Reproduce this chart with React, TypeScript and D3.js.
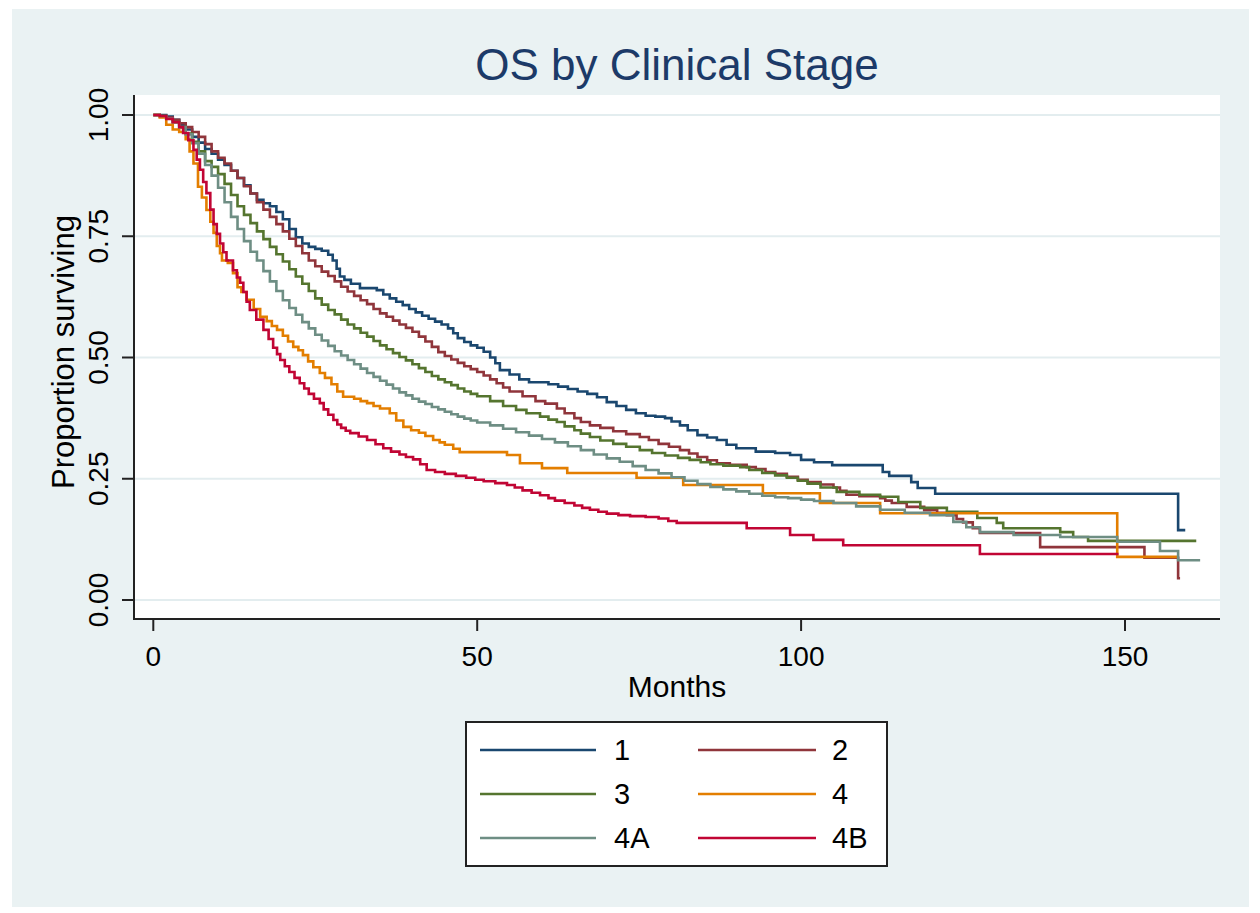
import React from 'react';
import * as d3 from 'd3';

type Pt = [number, number];

const titleText = 'OS by Clinical Stage';
const xTitle = 'Months';
const yTitle = 'Proportion surviving';
const xTicks = [0, 50, 100, 150];
const yTicks = [0, 0.25, 0.5, 0.75, 1];
const yTickLabels = ['0.00', '0.25', '0.50', '0.75', '1.00'];
const stageLabels = ['1', '2', '3', '4', '4A', '4B'];
const stageColors = ['#1A476F', '#90353B', '#55752F', '#E37E00', '#6E8E84', '#C10534'];

const stage1: Pt[] = [
  [0, 1], [2, 0.997], [3, 0.99], [4, 0.98], [5, 0.97], [6, 0.955], [7, 0.943], [8, 0.93], [9, 0.92],
  [10, 0.908], [11, 0.897], [12, 0.885], [13, 0.87], [14, 0.855], [15, 0.838], [16, 0.825], [17, 0.818],
  [18, 0.812], [19, 0.8], [20, 0.785], [21, 0.765], [22, 0.748], [23, 0.735], [24, 0.728], [25, 0.724],
  [26, 0.72], [27, 0.712], [27.7, 0.7], [28.3, 0.683], [28.8, 0.667], [29.5, 0.66], [30.5, 0.652],
  [31.9, 0.643], [34.5, 0.639], [35.5, 0.63], [36.5, 0.622], [37.5, 0.615], [38.5, 0.608], [39.5, 0.6],
  [40.5, 0.593], [41.5, 0.586], [42.5, 0.58], [43.5, 0.574], [44.5, 0.568], [45.5, 0.56], [46.3, 0.55],
  [47, 0.54], [48, 0.532], [49, 0.525], [50, 0.52], [51, 0.512], [52, 0.5], [52.8, 0.488], [53.5, 0.474],
  [55, 0.465], [56.5, 0.455], [58, 0.449], [61, 0.445], [62.5, 0.44], [64, 0.435], [65.5, 0.43],
  [67, 0.425], [68.5, 0.418], [70, 0.408], [71.5, 0.4], [73, 0.392], [74.5, 0.385], [76, 0.38],
  [77.5, 0.378], [79, 0.375], [80, 0.368], [81.3, 0.36], [82.5, 0.35], [84, 0.34], [85.5, 0.335],
  [87, 0.33], [88.5, 0.32], [90, 0.313], [93, 0.306], [96, 0.303], [98.3, 0.299], [100, 0.289],
  [102, 0.284], [104.8, 0.278], [112.6, 0.264], [113.6, 0.256], [117, 0.243], [118, 0.231],
  [120.7, 0.219], [158.2, 0.144], [159.3, 0.144],
];

const stage2: Pt[] = [
  [0, 1], [1, 0.998], [2, 0.995], [3, 0.99], [4, 0.983], [5, 0.975], [6, 0.965], [7, 0.955], [8, 0.94],
  [9, 0.925], [10, 0.912], [11, 0.9], [12, 0.885], [13, 0.87], [14, 0.853], [15, 0.838], [16, 0.82],
  [17, 0.805], [18, 0.79], [19, 0.775], [20, 0.76], [21, 0.745], [22, 0.73], [23, 0.715], [24, 0.7],
  [25, 0.688], [26, 0.677], [27, 0.668], [28, 0.657], [29, 0.646], [30, 0.636], [31, 0.627], [32, 0.618],
  [33, 0.61], [34, 0.6], [35, 0.591], [36, 0.584], [37, 0.576], [38, 0.568], [39, 0.561], [40, 0.553],
  [41, 0.543], [42, 0.533], [43, 0.522], [44, 0.511], [45, 0.503], [46, 0.496], [47, 0.489], [48, 0.482],
  [49, 0.476], [50, 0.47], [51, 0.463], [52, 0.455], [53, 0.447], [54, 0.438], [55, 0.43], [57, 0.42],
  [59, 0.41], [60.5, 0.405], [62.3, 0.395], [63.5, 0.385], [65, 0.375], [66, 0.367], [67.4, 0.36],
  [69, 0.355], [71, 0.348], [73, 0.342], [75.1, 0.336], [76.5, 0.33], [78, 0.322], [79.6, 0.316],
  [81.3, 0.309], [82.7, 0.302], [84, 0.295], [85.5, 0.288], [87, 0.282], [89, 0.279], [91.6, 0.274],
  [93, 0.27], [94.5, 0.264], [96, 0.26], [97.8, 0.254], [99.5, 0.248], [101, 0.243], [103, 0.238],
  [105, 0.232], [106, 0.225], [107, 0.217], [109, 0.214], [112.2, 0.21], [113, 0.205], [114, 0.2],
  [116.3, 0.192], [119, 0.185], [121, 0.18], [122.5, 0.175], [124, 0.167], [125, 0.16], [126.5, 0.148],
  [127.6, 0.138], [136.9, 0.109], [153, 0.087], [158.2, 0.045], [158.5, 0.045],
];

const stage3: Pt[] = [
  [0, 1], [1, 0.998], [2, 0.993], [3, 0.985], [4, 0.975], [5, 0.962], [6, 0.945], [7, 0.925], [8, 0.905],
  [9, 0.893], [10, 0.878], [11, 0.858], [12, 0.835], [13, 0.812], [14, 0.794], [15, 0.777], [16, 0.76],
  [17, 0.744], [18, 0.728], [19, 0.713], [20, 0.698], [21, 0.682], [22, 0.667], [23, 0.652], [24, 0.637],
  [25, 0.622], [26, 0.609], [27, 0.598], [28, 0.589], [29, 0.578], [30, 0.568], [31, 0.56], [32, 0.551],
  [33, 0.543], [34, 0.534], [35, 0.525], [36, 0.517], [37, 0.509], [38, 0.501], [39, 0.494], [40, 0.486],
  [41, 0.478], [42, 0.47], [43, 0.462], [44, 0.455], [45, 0.449], [46, 0.443], [47, 0.436], [48, 0.43],
  [49, 0.425], [50, 0.42], [52, 0.41], [54, 0.4], [56, 0.392], [57.6, 0.385], [59.7, 0.378], [61, 0.372],
  [62.3, 0.367], [63.5, 0.358], [65, 0.35], [66, 0.343], [67.4, 0.336], [69, 0.329], [71, 0.322],
  [73, 0.316], [75.1, 0.309], [77, 0.303], [79, 0.298], [81, 0.293], [82.8, 0.289], [84.5, 0.284],
  [86, 0.28], [88, 0.277], [90.6, 0.274], [92, 0.268], [94, 0.262], [96, 0.257], [97.8, 0.252],
  [99.5, 0.246], [101, 0.24], [103, 0.232], [105.5, 0.223], [109, 0.217], [112.2, 0.213], [115, 0.202],
  [118.4, 0.19], [122.5, 0.182], [127.2, 0.169], [130.2, 0.159], [131.2, 0.148], [140, 0.14], [142, 0.13],
  [144.3, 0.122], [161, 0.122],
];

const stage4: Pt[] = [
  [0, 1], [1, 0.995], [2, 0.98], [3, 0.97], [4, 0.965], [5, 0.95], [5.6, 0.925], [6.2, 0.9], [6.9, 0.852],
  [7.5, 0.83], [8.2, 0.804], [8.8, 0.78], [9.3, 0.757], [9.8, 0.73], [10.3, 0.715], [10.6, 0.7],
  [11.5, 0.695], [12.3, 0.674], [13, 0.645], [13.6, 0.635], [14.4, 0.619], [15.5, 0.6], [16.5, 0.584],
  [17.5, 0.575], [18.3, 0.565], [19.1, 0.557], [20, 0.545], [20.8, 0.533], [21.6, 0.522], [22.4, 0.515],
  [23.1, 0.505], [23.9, 0.492], [24.7, 0.48], [25.7, 0.468], [26.5, 0.458], [27.5, 0.445], [28.4, 0.43],
  [29.3, 0.419], [31, 0.415], [32, 0.41], [33, 0.406], [34, 0.4], [35, 0.395], [36.5, 0.385], [37.5, 0.37],
  [38.6, 0.357], [39.8, 0.35], [41, 0.345], [42, 0.338], [43.2, 0.33], [44.2, 0.325], [45, 0.32],
  [46.3, 0.312], [47.3, 0.305], [54.6, 0.299], [56.6, 0.282], [60, 0.272], [63.9, 0.262], [74.6, 0.252],
  [81.8, 0.237], [94.1, 0.22], [102.9, 0.2], [112.2, 0.179], [148.8, 0.089], [158.2, 0.089],
];

const stage4A: Pt[] = [
  [0, 1], [1, 0.998], [2, 0.993], [3, 0.985], [4, 0.975], [5, 0.96], [6, 0.942], [7, 0.92], [8, 0.897],
  [9, 0.875], [10, 0.85], [11, 0.82], [12, 0.79], [13, 0.765], [14, 0.74], [15, 0.718], [16, 0.7],
  [17, 0.678], [18, 0.657], [19, 0.637], [20, 0.618], [21, 0.602], [22, 0.588], [23, 0.573], [24, 0.56],
  [25, 0.547], [26, 0.535], [27, 0.524], [28, 0.513], [29, 0.504], [30, 0.495], [31, 0.486], [32, 0.477],
  [33, 0.468], [34, 0.46], [35, 0.452], [36, 0.444], [37, 0.436], [38, 0.428], [39, 0.422], [40, 0.415],
  [41, 0.409], [42, 0.404], [43, 0.398], [44, 0.393], [45, 0.388], [46, 0.383], [47, 0.378], [48, 0.374],
  [49, 0.37], [50, 0.366], [52, 0.36], [54, 0.353], [56, 0.346], [58, 0.339], [60, 0.332], [62, 0.325],
  [64, 0.317], [66, 0.309], [68, 0.3], [70, 0.292], [72, 0.285], [74, 0.276], [76, 0.268], [78, 0.261],
  [80, 0.253], [82, 0.246], [84, 0.239], [86, 0.233], [88, 0.228], [90, 0.224], [92, 0.219], [94, 0.215],
  [96, 0.212], [98, 0.21], [100, 0.207], [102, 0.204], [105, 0.2], [108.5, 0.193], [112.2, 0.186],
  [116, 0.18], [119.9, 0.175], [123.5, 0.161], [125.5, 0.15], [127.6, 0.14], [132.8, 0.134], [140, 0.13],
  [148.8, 0.12], [155.4, 0.101], [158.2, 0.082], [161.6, 0.082],
];

const stage4B: Pt[] = [
  [0, 1], [1, 0.998], [2, 0.992], [3, 0.985], [4, 0.975], [4.6, 0.963], [5.4, 0.948], [6.2, 0.928],
  [6.7, 0.908], [7.2, 0.887], [7.7, 0.862], [8.2, 0.839], [8.8, 0.805], [9.3, 0.775], [9.8, 0.755],
  [10.3, 0.735], [10.8, 0.717], [11.3, 0.7], [12.3, 0.68], [12.9, 0.665], [13.4, 0.654], [13.9, 0.635],
  [14.4, 0.615], [14.9, 0.598], [15.9, 0.578], [17, 0.557], [17.8, 0.538], [18.5, 0.52], [19.1, 0.507],
  [19.6, 0.495], [20.3, 0.482], [21, 0.47], [21.8, 0.458], [22.6, 0.447], [23.3, 0.436], [24, 0.425],
  [24.8, 0.415], [25.7, 0.406], [26.3, 0.393], [27, 0.382], [27.8, 0.371], [28.4, 0.362], [29, 0.355],
  [29.7, 0.349], [30.4, 0.344], [31.7, 0.337], [33, 0.33], [34.3, 0.321], [35.5, 0.313], [36.7, 0.306],
  [38, 0.3], [39, 0.295], [40.1, 0.29], [41.2, 0.28], [42.2, 0.268], [43.5, 0.264], [45, 0.26],
  [46.7, 0.256], [48.3, 0.252], [49.7, 0.248], [51, 0.245], [52.8, 0.241], [54.6, 0.237], [55.8, 0.232],
  [57, 0.226], [58.4, 0.221], [59.7, 0.216], [61, 0.21], [62, 0.205], [63.5, 0.2], [65, 0.195],
  [66.2, 0.19], [67.4, 0.186], [68.7, 0.182], [70, 0.178], [71.8, 0.175], [73.6, 0.173], [76, 0.171],
  [78, 0.168], [79.5, 0.163], [80.8, 0.159], [91.6, 0.148], [98.3, 0.134], [101.9, 0.124],
  [106.5, 0.113], [127.6, 0.095], [149, 0.095],
];

const allSeries = [stage1, stage2, stage3, stage4, stage4A, stage4B];

const FONT = '"Liberation Sans", Arial, Helvetica, sans-serif';

export default function App() {
  const x = d3.scaleLinear().domain([0, 150]).range([153.3, 1125]);
  const y = d3.scaleLinear().domain([0, 1]).range([600, 115]);
  const line = d3
    .line<Pt>()
    .x((d) => x(d[0]))
    .y((d) => y(d[1]))
    .curve(d3.curveStepAfter);

  const plotLeft = 134;
  const plotRight = 1220;
  const plotTop = 95;
  const plotBottom = 619;

  const legendX = 466;
  const legendY = 722;
  const legendRows = [750, 794, 838];
  const legendCols = [
    { x1: 480, x2: 596, tx: 614 },
    { x1: 698, x2: 816, tx: 832 },
  ];

  return (
    <div style={{ position: 'absolute', left: 0, top: 0 }}>
      <svg width={1260} height={913} style={{ display: 'block', fontFamily: FONT }}>
        <rect x={0} y={0} width={1260} height={913} fill="#ffffff" />
        <rect x={12} y={9} width={1237} height={898} fill="#EAF2F3" />
        <rect x={plotLeft} y={plotTop} width={plotRight - plotLeft} height={plotBottom - plotTop} fill="#ffffff" />

        {yTicks.map((t) => (
          <line key={'g' + t} x1={plotLeft} x2={plotRight} y1={y(t)} y2={y(t)} stroke="#E3EDEF" strokeWidth={2} />
        ))}

        {allSeries.map((s, i) => (
          <path key={'s' + i} d={line(s) || ''} fill="none" stroke={stageColors[i]} strokeWidth={2.6} strokeLinejoin="miter" />
        ))}

        <line x1={plotLeft} x2={plotLeft} y1={plotTop} y2={plotBottom + 1} stroke="#222" strokeWidth={2} />
        <line x1={plotLeft - 1} x2={plotRight} y1={plotBottom} y2={plotBottom} stroke="#222" strokeWidth={2} />
        {yTicks.map((t, i) => (
          <g key={'yt' + t}>
            <line x1={plotLeft - 12} x2={plotLeft} y1={y(t)} y2={y(t)} stroke="#222" strokeWidth={2} />
            <text transform={`translate(108, ${y(t)}) rotate(-90)`} textAnchor="middle" fontSize={28} fill="#000">
              {yTickLabels[i]}
            </text>
          </g>
        ))}
        {xTicks.map((t) => (
          <g key={'xt' + t}>
            <line x1={x(t)} x2={x(t)} y1={plotBottom} y2={plotBottom + 12} stroke="#222" strokeWidth={2} />
            <text x={x(t)} y={666} textAnchor="middle" fontSize={28} fill="#000">
              {t}
            </text>
          </g>
        ))}

        <text x={677} y={697} textAnchor="middle" fontSize={30} fill="#000">
          {xTitle}
        </text>
        <text transform="translate(74, 352) rotate(-90)" textAnchor="middle" fontSize={31} fill="#000">
          {yTitle}
        </text>
        <text x={677} y={80} textAnchor="middle" fontSize={44} fill="#1C3A68">
          {titleText}
        </text>

        <rect x={legendX} y={legendY} width={421} height={144} fill="#ffffff" stroke="#222" strokeWidth={2} />
        {stageLabels.map((lab, i) => {
          const row = Math.floor(i / 2);
          const col = legendCols[i % 2];
          const yy = legendRows[row];
          return (
            <g key={'lg' + lab}>
              <line x1={col.x1} x2={col.x2} y1={yy} y2={yy} stroke={stageColors[i]} strokeWidth={2.6} />
              <text x={col.tx} y={yy + 10} fontSize={29} fill="#000">
                {lab}
              </text>
            </g>
          );
        })}
      </svg>
    </div>
  );
}
